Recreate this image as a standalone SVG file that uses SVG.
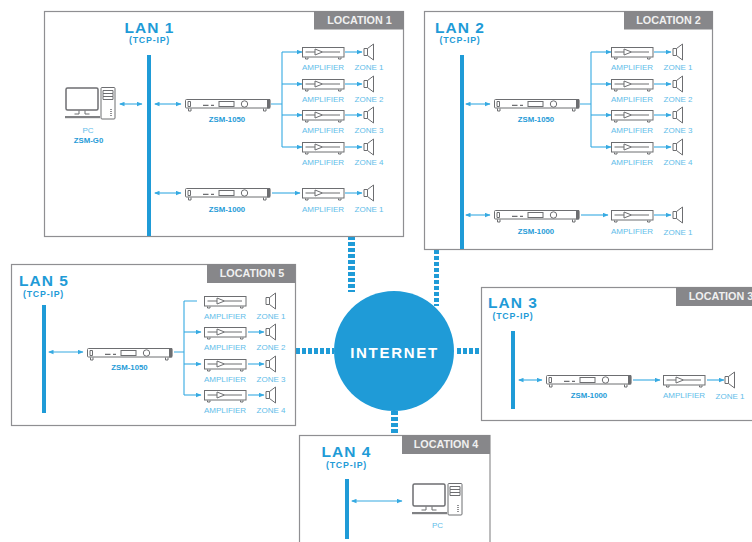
<svg xmlns="http://www.w3.org/2000/svg" width="752" height="542" viewBox="0 0 752 542">
<style>
text{font-family:"Liberation Sans",Arial,sans-serif;text-anchor:middle}
.box{fill:#fff;stroke:#8f8f92;stroke-width:1.2}
.tab{fill:#87878a}
.loc{fill:#f0f0f0;font-size:10.800px;font-weight:700}
.bar{fill:#1f9bd7}
.lan{fill:#1f9bd7;font-size:15.500px;font-weight:700;letter-spacing:1px}
.tcp{fill:#1f9bd7;font-size:8.800px;font-weight:700;letter-spacing:.8px}
.lb{fill:#62bde9;font-size:8px}
.dv{fill:#1f9bd7;font-size:7.800px;font-weight:700}
.ln{fill:none;stroke:#36aae2;stroke-width:1.100}
.ar{fill:none;stroke:#36aae2;stroke-width:1.100;marker-end:url(#h)}
.ar2{fill:none;stroke:#36aae2;stroke-width:1.100;marker-end:url(#h);marker-start:url(#hs)}
.g{fill:none;stroke:#6d6e71;stroke-width:1}
.st{fill:none;stroke:#1f9bd7;stroke-dasharray:4 2}
</style>
<defs>
<marker id="h" markerWidth="6" markerHeight="5" refX="5" refY="2.500" orient="auto" markerUnits="userSpaceOnUse"><path d="M0 .3L5.500 2.500L0 4.700z" fill="#36aae2"/></marker>
<marker id="hs" markerWidth="6" markerHeight="5" refX="1" refY="2.500" orient="auto" markerUnits="userSpaceOnUse"><path d="M5.500 .3L0 2.500L5.500 4.700z" fill="#36aae2"/></marker>
<g id="amp"><rect class="g" x=".5" y=".5" width="41.500" height="9.500"/><path class="g" d="M3.500 5H13M20.500 5H38M13 2L20.500 5L13 8Z"/><path class="g" d="M3.500 10.500v1.500h2.500v-1.500M36.500 10.500v1.500h2.500v-1.500"/></g>
<g id="spk"><path class="g" d="M0 3.500h3.500v7H0zM3.500 3.500L9.500 -1V15L3.500 10.500"/></g>
<g id="dev"><rect class="g" x=".5" y=".5" width="84.500" height="8.500" rx="1"/><rect x="82" y="0" width="3.200" height="9.500" fill="#6d6e71"/><rect class="g" x="34" y="2.500" width="15" height="5" stroke-width=".8"/><circle class="g" cx="59.500" cy="5" r="3.200"/><path d="M3 2.500h2.500v5H3z" fill="none" stroke="#6d6e71"/><path d="M18 6.300h5.500M26 6.300h3" stroke="#6d6e71" stroke-width="1.300"/><path class="g" d="M3.500 9.500v2.500h2.500v-2.500M78.500 9.500v2.500h2.500v-2.500"/></g>
<g id="pc"><rect x="1" y="1" width="32" height="22" rx="1.500" fill="none" stroke="#6d6e71" stroke-width="1.500"/><path d="M14 23.500v3.500h-4.500M20 23.500v3.500h4.500" class="g"/><rect x="0" y="29" width="35" height="2.200" fill="#808184"/><rect x="36" y="0.500" width="14" height="31.500" rx="1" class="g"/><path class="g" d="M38 3.500h10v3H38zM38 6.500h10v3H38zM38 9.500h10v3H38z" stroke-width=".8"/><path d="M46 22v8" stroke="#6d6e71" stroke-width="1.500" stroke-dasharray="1 1"/></g>
</defs>

<g id="connectors">
<path class="st" stroke-width="7" d="M351.500 236V292"/>
<path class="st" stroke-width="5" d="M436.500 250V306"/>
<path class="st" stroke-width="6" d="M296 351H334"/>
<path class="st" stroke-width="6" d="M457 351H482"/>
<path class="st" stroke-width="7" d="M394.500 411V435"/>
</g>

<g id="location-1">
<rect class="box" x="44.500" y="11.500" width="359" height="225"/>
<rect class="tab" x="314" y="11" width="90" height="18.500"/>
<text class="loc" x="359.500" y="24">LOCATION 1</text>
<text class="lan" x="149.500" y="32.500">LAN 1</text>
<text class="tcp" x="149.500" y="43">(TCP-IP)</text>
<rect class="bar" x="147" y="55" width="4" height="181"/>
<path class="ar2" d="M120 104H142"/><path class="ar2" d="M155 104H181"/>
<path class="ln" d="M271 104H282M282 52V147"/>
<path class="ar" d="M282 52H302"/><path class="ar" d="M282 84H302"/><path class="ar" d="M282 115H302"/><path class="ar" d="M282 147H302"/>
<path class="ar" d="M345 52H362"/><path class="ar" d="M345 84H362"/><path class="ar" d="M345 115H362"/><path class="ar" d="M345 147H362"/>
<path class="ar2" d="M155 193H181"/><path class="ar" d="M272 193H300"/><path class="ar" d="M345 193H362"/>
<use href="#pc" x="65" y="87"/>
<text class="lb" x="88" y="133">PC</text><text class="dv" x="88.500" y="143">ZSM-G0</text>
<use href="#dev" x="185" y="99"/><text class="dv" x="227" y="122">ZSM-1050</text>
<use href="#dev" x="185" y="188"/><text class="dv" x="227" y="212">ZSM-1000</text>
<use href="#amp" x="302" y="47"/><use href="#amp" x="302" y="79"/><use href="#amp" x="302" y="110"/><use href="#amp" x="302" y="142"/><use href="#amp" x="302" y="188"/>
<use href="#spk" x="364" y="45"/><use href="#spk" x="364" y="77"/><use href="#spk" x="364" y="108"/><use href="#spk" x="364" y="140"/><use href="#spk" x="364" y="186"/>
<text class="lb" x="323" y="70">AMPLIFIER</text><text class="lb" x="323" y="102">AMPLIFIER</text><text class="lb" x="323" y="133">AMPLIFIER</text><text class="lb" x="323" y="165">AMPLIFIER</text><text class="lb" x="323" y="212">AMPLIFIER</text>
<text class="lb" x="369" y="70">ZONE 1</text><text class="lb" x="369" y="102">ZONE 2</text><text class="lb" x="369" y="133">ZONE 3</text><text class="lb" x="369" y="165">ZONE 4</text><text class="lb" x="369" y="212">ZONE 1</text>
</g>

<g id="location-2">
<rect class="box" x="424.500" y="11.500" width="288" height="238"/>
<rect class="tab" x="624" y="11" width="89" height="18.500"/>
<text class="loc" x="668.500" y="24">LOCATION 2</text>
<text class="lan" x="460" y="32.500">LAN 2</text>
<text class="tcp" x="460" y="43">(TCP-IP)</text>
<rect class="bar" x="460" y="55" width="4" height="194"/>
<path class="ar2" d="M466 104H490"/>
<path class="ln" d="M580 104H591M591 52V147"/>
<path class="ar" d="M591 52H611"/><path class="ar" d="M591 84H611"/><path class="ar" d="M591 115H611"/><path class="ar" d="M591 147H611"/>
<path class="ar" d="M654 52H671"/><path class="ar" d="M654 84H671"/><path class="ar" d="M654 115H671"/><path class="ar" d="M654 147H671"/>
<path class="ar2" d="M466 215H490"/><path class="ar" d="M581 215H608"/><path class="ar" d="M654 215H671"/>
<use href="#dev" x="494" y="99"/><text class="dv" x="536" y="122">ZSM-1050</text>
<use href="#dev" x="494" y="210"/><text class="dv" x="536" y="234">ZSM-1000</text>
<use href="#amp" x="611" y="47"/><use href="#amp" x="611" y="79"/><use href="#amp" x="611" y="110"/><use href="#amp" x="611" y="142"/><use href="#amp" x="611" y="210"/>
<use href="#spk" x="673" y="45"/><use href="#spk" x="673" y="77"/><use href="#spk" x="673" y="108"/><use href="#spk" x="673" y="140"/><use href="#spk" x="673" y="208"/>
<text class="lb" x="632" y="70">AMPLIFIER</text><text class="lb" x="632" y="102">AMPLIFIER</text><text class="lb" x="632" y="133">AMPLIFIER</text><text class="lb" x="632" y="165">AMPLIFIER</text><text class="lb" x="632" y="234">AMPLIFIER</text>
<text class="lb" x="678" y="70">ZONE 1</text><text class="lb" x="678" y="102">ZONE 2</text><text class="lb" x="678" y="133">ZONE 3</text><text class="lb" x="678" y="165">ZONE 4</text><text class="lb" x="678" y="235">ZONE 1</text>
</g>

<g id="location-5">
<rect class="box" x="11.500" y="264.500" width="284" height="161"/>
<rect class="tab" x="207" y="264" width="88.500" height="19"/>
<text class="loc" x="252" y="277">LOCATION 5</text>
<text class="lan" x="44" y="285.500">LAN 5</text>
<text class="tcp" x="43.500" y="297">(TCP-IP)</text>
<rect class="bar" x="42" y="305" width="4" height="108"/>
<path class="ar2" d="M49 352H83"/>
<path class="ln" d="M174 352H184M184 301V395M184 301H197"/>
<path class="ar" d="M184 332H201"/><path class="ar" d="M184 364H201"/><path class="ar" d="M184 395H201"/>
<path class="ar" d="M248 332H264"/><path class="ar" d="M248 364H264"/><path class="ar" d="M248 395H264"/>
<use href="#dev" x="87" y="348"/><text class="dv" x="129.500" y="370">ZSM-1050</text>
<use href="#amp" x="204" y="296"/><use href="#amp" x="204" y="327"/><use href="#amp" x="204" y="359"/><use href="#amp" x="204" y="390"/>
<use href="#spk" x="266" y="294"/><use href="#spk" x="266" y="325"/><use href="#spk" x="266" y="357"/><use href="#spk" x="266" y="388"/>
<text class="lb" x="225" y="319">AMPLIFIER</text><text class="lb" x="225" y="350">AMPLIFIER</text><text class="lb" x="225" y="382">AMPLIFIER</text><text class="lb" x="225" y="413">AMPLIFIER</text>
<text class="lb" x="271" y="319">ZONE 1</text><text class="lb" x="271" y="350">ZONE 2</text><text class="lb" x="271" y="382">ZONE 3</text><text class="lb" x="271" y="413">ZONE 4</text>
</g>

<g id="location-3">
<rect class="box" x="481.500" y="287.500" width="272" height="133"/>
<rect class="tab" x="676" y="287" width="76" height="19"/>
<text class="loc" x="721" y="300">LOCATION 3</text>
<text class="lan" x="513" y="308">LAN 3</text>
<text class="tcp" x="513" y="319">(TCP-IP)</text>
<rect class="bar" x="511" y="331" width="4" height="78"/>
<path class="ar2" d="M519 380H542"/><path class="ar" d="M633 380H660"/><path class="ar" d="M707 380H724"/>
<use href="#dev" x="546" y="375"/><text class="dv" x="589" y="398">ZSM-1000</text>
<use href="#amp" x="663" y="375"/><use href="#spk" x="725" y="373"/>
<text class="lb" x="684" y="398">AMPLIFIER</text><text class="lb" x="730" y="399">ZONE 1</text>
</g>

<g id="location-4">
<rect class="box" x="299.500" y="435.500" width="190.500" height="110"/>
<rect class="tab" x="402" y="435" width="88" height="19"/>
<text class="loc" x="446" y="448">LOCATION 4</text>
<text class="lan" x="346.500" y="456.500">LAN 4</text>
<text class="tcp" x="346.500" y="468">(TCP-IP)</text>
<rect class="bar" x="345" y="479" width="4" height="60"/>
<path class="ar2" d="M352 501H402"/>
<use href="#pc" x="412" y="483"/>
<text class="lb" x="437.500" y="528">PC</text>
</g>

<g id="internet">
<circle cx="394" cy="351" r="60" fill="#1f9bd7"/>
<text x="394.500" y="357.500" fill="#fff" font-size="15" font-weight="700" letter-spacing="1.700">INTERNET</text>
</g>
</svg>
